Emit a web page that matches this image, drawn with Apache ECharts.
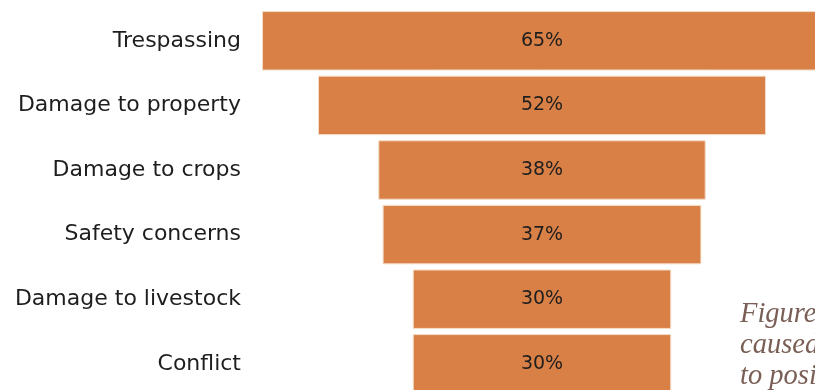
<!DOCTYPE html>
<html>
<head>
<meta charset="utf-8">
<script src="https://cdn.jsdelivr.net/npm/echarts@6/dist/echarts.min.js"></script>
<style>
  html, body { margin: 0; padding: 0; background: #ffffff; }
  #chart { width: 815px; height: 390px; }
</style>
</head>
<body>
<div id="chart"></div>
<script>
// Reported problems, share of respondents (%)
const categories = ['Trespassing', 'Damage to property', 'Damage to crops', 'Safety concerns', 'Damage to livestock', 'Conflict'];
const shares = [65, 52, 38, 37, 30, 30];
const captionLines = ['Figure 4. Problems', 'caused by wildlife', 'to positive outcomes'];

const widest = Math.max.apply(null, shares);
// transparent spacer that centres each bar on the widest one
const spacer = shares.map(v => (widest - v) / 2);

const chart = echarts.init(document.getElementById('chart'), null, { renderer: 'canvas' });
chart.setOption({
  animation: false,
  grid: {
    left: 262, top: 8.5, width: 560, height: 387.6,
    containLabel: false,
    outerBoundsMode: 'none'
  },
  xAxis: {
    type: 'value', min: 0, max: widest,
    show: false
  },
  yAxis: {
    type: 'category',
    data: categories,
    inverse: true,
    axisLine: { show: false },
    axisTick: { show: false },
    splitLine: { show: false },
    axisLabel: {
      margin: 21,
      color: '#1e1e1e',
      fontFamily: 'DejaVu Sans',
      fontSize: 22,
      padding: [3, 0, 0, 0]
    }
  },
  series: [
    {
      type: 'bar', stack: 'f', data: spacer,
      itemStyle: { color: 'transparent' },
      barCategoryGap: '8%',
      silent: true
    },
    {
      type: 'bar', stack: 'f', data: shares,
      barCategoryGap: '8%',
      itemStyle: { color: '#d98047', borderColor: '#f3dcc6', borderWidth: 1 },
      label: {
        show: true, position: 'inside',
        formatter: p => p.value + '%',
        color: '#1e1e1e',
        fontFamily: 'DejaVu Sans',
        fontSize: 19
      }
    }
  ],
  graphic: captionLines.map((t, i) => ({
    type: 'text',
    left: 740, top: 300 + i * 31,
    style: {
      text: t,
      fill: '#7a5f56',
      font: 'italic 28.5px "Liberation Serif"'
    }
  }))
});
</script>
</body>
</html>
